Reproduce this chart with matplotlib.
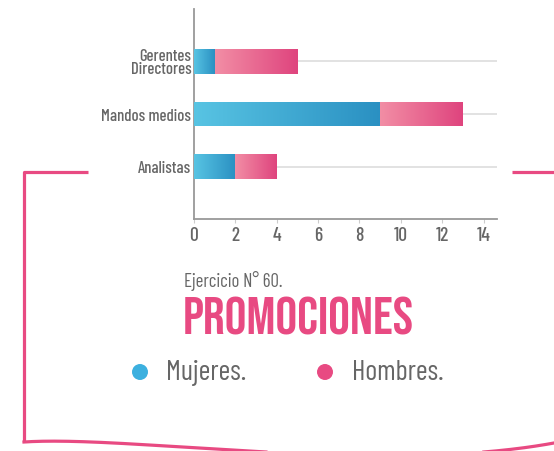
import numpy as np
import matplotlib.pyplot as plt
from matplotlib.colors import LinearSegmentedColormap

# Datos
categorias = ['Analistas', 'Mandos medios', 'Gerentes\nDirectores']
mujeres = [2, 9, 1]
hombres = [2, 4, 4]
ticks_x = [0, 2, 4, 6, 8, 10, 12, 14]

rosa = '#e84a82'
azul = '#3cb0df'
gris = '#666666'
fuente = ['Barlow Condensed', 'DejaVu Sans']
fuente_titulo = ['Bebas Neue', 'DejaVu Sans']

cmap_azul = LinearSegmentedColormap.from_list('azul', ['#58c4e3', '#2a90c2'])
cmap_rosa = LinearSegmentedColormap.from_list('rosa', ['#f28ea5', '#df447e'])

fig = plt.figure(figsize=(5.54, 4.52), dpi=100)

# marco decorativo (coordenadas en pixeles)
deco = fig.add_axes([0, 0, 1, 1], zorder=0)
deco.set_xlim(0, 554)
deco.set_ylim(452, 0)
deco.axis('off')
deco.plot([88, 24, 24], [173, 173, 443], color=rosa, lw=2.3, solid_capstyle='butt')
deco.plot([512, 554], [173, 173], color=rosa, lw=2.3, solid_capstyle='butt')
t = np.linspace(0, 1, 200)[:, None]
p = np.array([[24, 443], [130, 436], [380, 476], [554, 444]])
curva = ((1 - t)**3 * p[0] + 3 * (1 - t)**2 * t * p[1]
         + 3 * (1 - t) * t**2 * p[2] + t**3 * p[3])
deco.plot(curva[:, 0], curva[:, 1], color=rosa, lw=2.3)

# grafico de barras
ax = fig.add_axes([194 / 554, 1 - 220 / 452, 303 / 554, 210 / 452], zorder=1)
ax.patch.set_alpha(0)
y = np.arange(len(categorias))
alto = 0.46

def barra_degradado(izq, ancho, yc, cmap):
    b = ax.barh(yc, ancho, left=izq, height=alto, color='none', zorder=3)[0]
    grad = np.linspace(0, 1, 256)[None, :]
    im = ax.imshow(grad, cmap=cmap, aspect='auto', zorder=3,
                   extent=[izq, izq + ancho, yc - alto / 2, yc + alto / 2])
    im.set_clip_path(b)

for i in range(len(categorias)):
    barra_degradado(0, mujeres[i], y[i], cmap_azul)
    barra_degradado(mujeres[i], hombres[i], y[i], cmap_rosa)

ax.set_xlim(0, 14.65)
ax.set_ylim(-1, 3)
ax.set_yticks(y)
ax.set_yticklabels(categorias, family=fuente, fontsize=12, weight='medium',
                   color=gris, linespacing=0.85)
ax.set_xticks(ticks_x)
ax.set_xticklabels([str(v) for v in ticks_x], family=fuente, fontsize=14,
                   weight='medium', color=gris)
ax.tick_params(axis='y', length=0, pad=2)
ax.tick_params(axis='x', length=3, color='#cccccc', pad=2)
ax.grid(axis='y', color='#dddddd', lw=1.2, zorder=1)
ax.set_axisbelow(True)
for s in ['top', 'right']:
    ax.spines[s].set_visible(False)
for s in ['left', 'bottom']:
    ax.spines[s].set_color('#999999')
    ax.spines[s].set_linewidth(1.3)

# textos
fig.text(184 / 554, 1 - 281 / 452, 'Ejercicio N° 60.', family=fuente,
         fontsize=13.5, color=gris, va='center', ha='left')
fig.text(183 / 554, 1 - 316 / 452, 'PROMOCIONES', family=fuente_titulo,
         fontsize=39, color=rosa, va='center', ha='left')

# leyenda
deco.scatter([140, 325], [373, 373], s=110, color=[azul, rosa], zorder=2)
fig.text(166 / 554, 1 - 373 / 452, 'Mujeres.', family=fuente, fontsize=20.5,
         color=gris, va='center', ha='left')
fig.text(352 / 554, 1 - 373 / 452, 'Hombres.', family=fuente, fontsize=20.5,
         color=gris, va='center', ha='left')

fig.savefig('out.png', dpi=100)
